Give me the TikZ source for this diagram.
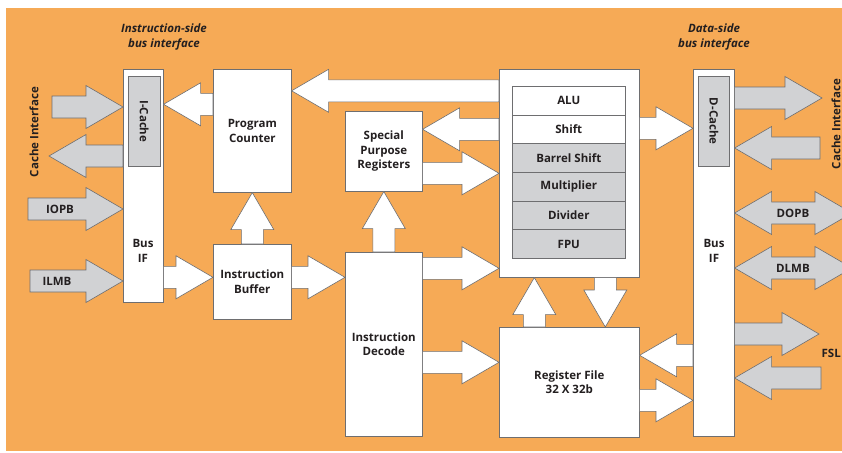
\documentclass[tikz,border=0pt]{standalone}
\usepackage{fontspec}
\setmainfont{Open Sans}
\usepackage{xcolor}
\usepackage{tikz}
\usetikzlibrary{calc}

\definecolor{bgorange}{RGB}{246,170,86}
\definecolor{unitgray}{RGB}{209,210,212}
\definecolor{edgegray}{RGB}{110,110,112}
\definecolor{inkdark}{RGB}{35,31,32}

\def\arrshaft{11pt}
\def\arrhead{21.5pt}
\def\arrlen{37pt}

\tikzset{
    blk/.style={draw=edgegray, fill=white, line width=0.6pt, inner sep=0pt, anchor=north west},
    lbl/.style={text=inkdark, align=center, font={\bfseries\fontsize{11.5pt}{14.5pt}\selectfont}},
    title/.style={lbl, font={\bfseries\itshape\fontsize{11.5pt}{15pt}\selectfont}},
    unitcell/.style={blk, lbl, fill=unitgray, minimum width=113pt, minimum height=28.7pt},
    arr/.style={draw=edgegray, line width=0.6pt, line join=miter},
    whitearr/.style={arr, fill=white},
    grayarr/.style={arr, fill=unitgray},
    fatpoly/.style 2 args={to path={
        let \p1=(#1), \p2=(#2), \p3=($(\p2)!\arrlen!(\p1)$) in
        ($(\p1)!\arrshaft!90:(\p2)$) -- ($(\p3)!\arrshaft!90:(\p2)$)
        -- ($(\p3)!\arrhead!90:(\p2)$) -- (\p2)
        -- ($(\p3)!\arrhead!-90:(\p2)$) -- ($(\p3)!\arrshaft!-90:(\p2)$)
        -- ($(\p1)!\arrshaft!-90:(\p2)$) -- cycle}},
    dblpoly/.style 2 args={to path={
        let \p1=(#1), \p2=(#2), \p3=($(\p1)!\arrlen!(\p2)$), \p4=($(\p2)!\arrlen!(\p1)$) in
        (\p1) -- ($(\p3)!\arrhead!90:(\p2)$) -- ($(\p3)!\arrshaft!90:(\p2)$)
        -- ($(\p4)!\arrshaft!90:(\p2)$) -- ($(\p4)!\arrhead!90:(\p2)$) -- (\p2)
        -- ($(\p4)!\arrhead!-90:(\p2)$) -- ($(\p4)!\arrshaft!-90:(\p2)$)
        -- ($(\p3)!\arrshaft!-90:(\p2)$) -- ($(\p3)!\arrhead!-90:(\p2)$) -- cycle}},
    fath/.style={fatpoly={\tikztostart}{\tikztostart -| \tikztotarget}},
    fathr/.style={fatpoly={\tikztostart |- \tikztotarget}{\tikztotarget}},
    fatv/.style={fatpoly={\tikztostart}{\tikztostart |- \tikztotarget}},
    dblh/.style={dblpoly={\tikztostart |- \tikztotarget}{\tikztotarget}}
}

\begin{document}
\begin{tikzpicture}[x=1pt, y=-1pt]
    % Canvas
    \useasboundingbox (0,0) rectangle (842,452);
    \clip (0,0) rectangle (842,452);
    \fill [white] (0,0) rectangle (842,452);
    \fill [bgorange] (6,8) rectangle (842,451);

    % Titles
    \node [title] (ititle) at (164,37.5) {Instruction-side\\bus interface};
    \node [title] (dtitle) at (714,37.5) {Data-side\\bus interface};

    % Instruction-side bus IF
    \node [blk, minimum width=40pt, minimum height=233pt] (ibus) at (123,69) {};
    \node [blk, fill=unitgray, minimum width=32pt, minimum height=90pt] (icache) at (128,76) {};
    \node [lbl, rotate=-90] (icachelbl) at (icache) {I-Cache};
    \node [lbl] (ibuslbl) at (143,251) {Bus\\IF};

    % Fetch and decode
    \node [blk, lbl, minimum width=78pt, minimum height=123pt] (pc) at (213,69) {Program\\Counter};
    \node [blk, lbl, minimum width=78pt, minimum height=75pt] (ibuf) at (213,244) {Instruction\\Buffer};
    \node [blk, lbl, minimum width=77pt, minimum height=80pt] (spr) at (345,111) {Special\\Purpose\\Registers};
    \node [blk, lbl, minimum width=77pt, minimum height=184pt] (idec) at (345,252) {Instruction\\Decode};

    % Execution units
    \node [blk, minimum width=140pt, minimum height=208pt] (exec) at (499,69) {};
    \node [unitcell, fill=white] (alu) at (512,86) {ALU};
    \node [unitcell, fill=white] (shifter) at (512,114.7) {Shift};
    \node [unitcell] (bshifter) at (512,143.3) {Barrel Shift};
    \node [unitcell] (mult) at (512,172) {Multiplier};
    \node [unitcell] (divider) at (512,200.7) {Divider};
    \node [unitcell] (fpu) at (512,229.3) {FPU};

    % Register file
    \node [blk, lbl, minimum width=140pt, minimum height=110pt] (rf) at (499,327) {Register File\\32 X 32b};

    % Data-side bus IF
    \node [blk, minimum width=41pt, minimum height=367pt] (dbus) at (693,69) {};
    \node [blk, fill=unitgray, minimum width=31pt, minimum height=90pt] (dcache) at (698,76) {};
    \node [lbl, rotate=-90] (dcachelbl) at (dcache) {D-Cache};
    \node [lbl] (dbuslbl) at (714,251) {Bus\\IF};

    % Instruction-side ports
    \coordinate (ciin) at (52,107);
    \coordinate (ciout) at (49,156);
    \coordinate (iopbin) at (28,209);
    \coordinate (ilmbin) at (30,281);
    \draw [grayarr, fath] (ciin) to (ibus.west);
    \draw [grayarr, fathr] (ibus.west) to (ciout);
    \draw [grayarr, fath] (iopbin) to (ibus.west);
    \draw [grayarr, fath] (ilmbin) to (ibus.west);
    \node [lbl, rotate=90] (cileft) at (34,132) {Cache Interface};
    \node [lbl] (iopb) at (60,209) {IOPB};
    \node [lbl] (ilmb) at (57,281) {ILMB};

    % Internal paths
    \draw [whitearr, fath] ([yshift=26.5pt]pc.west) to (ibus.east);
    \draw [whitearr, fathr] (ibus.east) to ([yshift=4.5pt]ibuf.west);
    \draw [whitearr, fatv] (ibuf.north) to (pc.south);
    \draw [whitearr, fath] ([yshift=4.5pt]ibuf.east) to (idec.west);
    \draw [whitearr, fatv] (idec.north) to (spr.south);
    \draw [whitearr, fath] ([yshift=82.5pt]exec.west) to (pc.east);
    \draw [whitearr, fath] ([yshift=44pt]exec.west) to (spr.east);
    \draw [whitearr, fath] ([yshift=-22pt]spr.east) to (exec.west);
    \draw [whitearr, fath] ([yshift=76pt]idec.east) to (exec.west);
    \draw [whitearr, fath] ([yshift=-18pt]idec.east) to (rf.west);
    \draw [whitearr, fatv] ([xshift=-35pt]rf.north) to (exec.south);
    \draw [whitearr, fatv] ([xshift=36pt]exec.south) to (rf.north);
    \draw [whitearr, fath] ([yshift=45pt]exec.east) to (dbus.west);
    \draw [whitearr, fathr] (dbus.west) to ([yshift=27pt]rf.east);
    \draw [whitearr, fath] ([yshift=-18pt]rf.east) to (dbus.west);

    % Data-side ports
    \coordinate (cdout) at (822,98);
    \coordinate (cdin) at (820,148);
    \coordinate (dopbend) at (852,213);
    \coordinate (dlmbend) at (852,268);
    \coordinate (fslout) at (819,334);
    \coordinate (fslin) at (821,378);
    \draw [grayarr, fathr] (dbus.east) to (cdout);
    \draw [grayarr, fath] (cdin) to (dbus.east);
    \draw [grayarr, dblh] (dbus.east) to (dopbend);
    \draw [grayarr, dblh] (dbus.east) to (dlmbend);
    \draw [grayarr, fathr] (dbus.east) to (fslout);
    \draw [grayarr, fath] (fslin) to (dbus.east);
    \node [lbl, rotate=90] (ciright) at (836,124) {Cache Interface};
    \node [lbl] (dopb) at (793,213) {DOPB};
    \node [lbl] (dlmb) at (793,268) {DLMB};
    \node [lbl, anchor=east, inner sep=1pt] (fsl) at (842,353) {FSL};
\end{tikzpicture}
\end{document}
